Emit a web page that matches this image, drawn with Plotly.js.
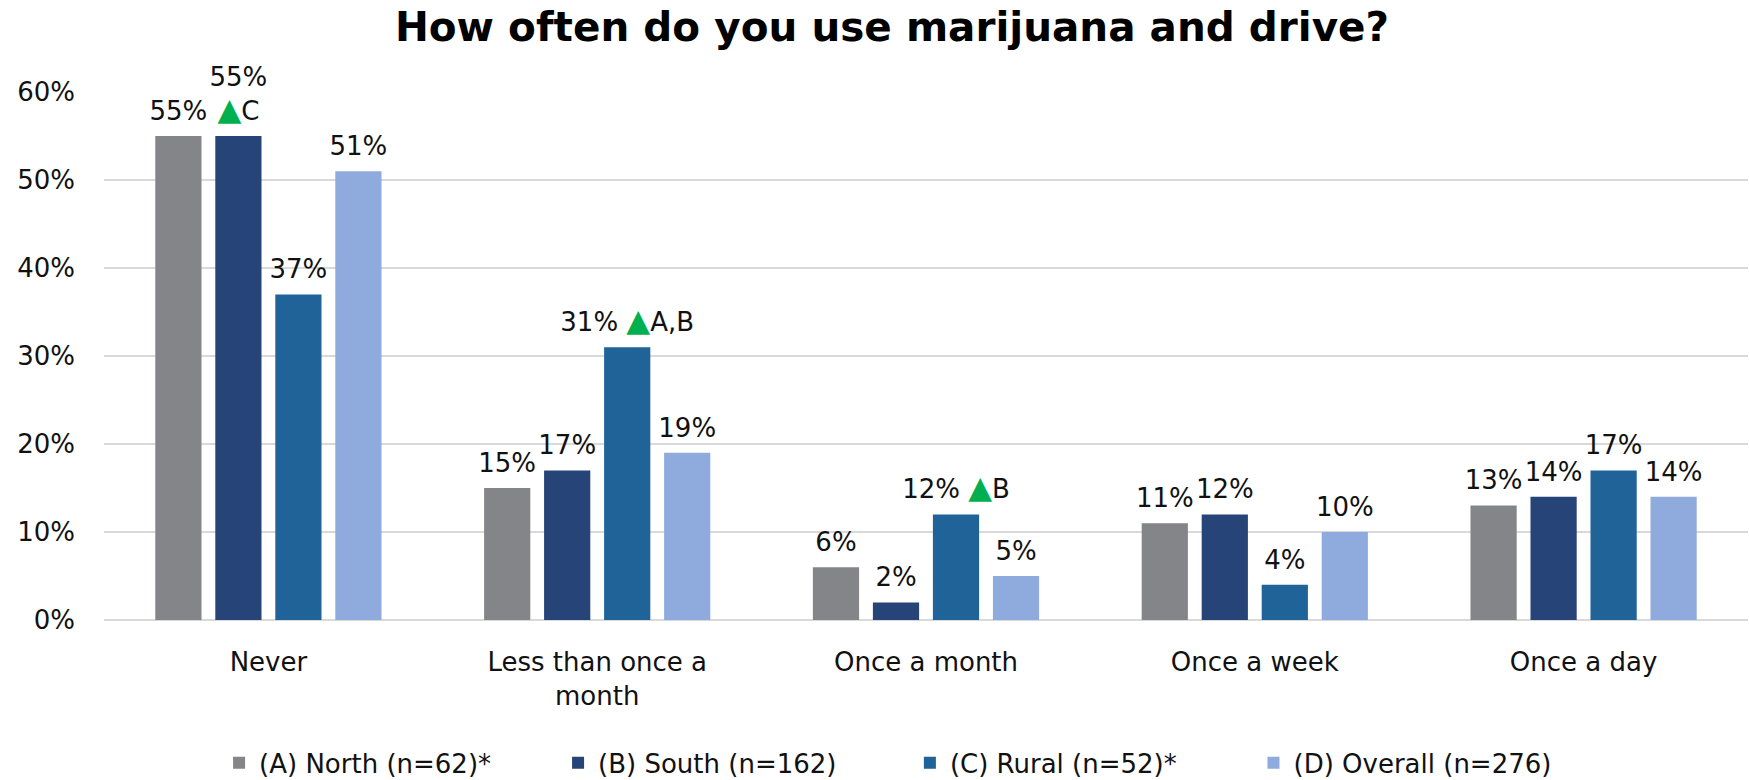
<!DOCTYPE html>
<html>
<head>
<meta charset="utf-8">
<script src="https://cdn.plot.ly/plotly-3.0.1.min.js"></script>
<style>html,body{margin:0;padding:0;background:#fff;}</style>
</head>
<body>
<div id="chart" style="width:1749px;height:780px;"></div>
<script>
const categories = ["Never", "Less than once a<br>month", "Once a month", "Once a week", "Once a day"];
const seriesNames = ["(A) North (n=62)*", "(B) South (n=162)", "(C) Rural (n=52)*", "(D) Overall (n=276)"];
const north   = [55, 15, 6, 11, 13];
const south   = [55, 17, 2, 12, 14];
const rural   = [37, 31, 12, 4, 17];
const overall = [51, 19, 5, 10, 14];
// significance markers (letters of groups significantly lower)
const sigNorth   = ["", "", "", "", ""];
const sigSouth   = ["C", "", "", "", ""];
const sigRural   = ["", "A,B", "B", "", ""];
const sigOverall = ["", "", "", "", ""];
const colors = ["#848589", "#264478", "#1f6399", "#8faadc"];
const yTicks = [0, 10, 20, 30, 40, 50, 60];
const legendIds = ["legend", "legend2", "legend3", "legend4"];
const legendX = [0.070, 0.2762, 0.4902, 0.6992];

const FONT = "DejaVu Sans, sans-serif";
const TRI = '<span style="color:#00b050;font-size:31px">▲</span>';

function labels(vals, sig, twoLine) {
  return vals.map((v, i) => {
    if (!sig[i]) return v + "%";
    return twoLine ? (v + "%<br>" + TRI + sig[i]) : (v + "% " + TRI + sig[i]);
  });
}

const series = [north, south, rural, overall];
const sigs = [sigNorth, sigSouth, sigRural, sigOverall];
const bars = series.map((vals, k) => ({
  type: "bar",
  name: seriesNames[k],
  x: categories,
  y: vals,
  marker: {color: colors[k]},
  offsetgroup: "g" + k,
  legend: legendIds[k],
  hoverinfo: "none"
}));
const texts = series.map((vals, k) => ({
  type: "scatter",
  mode: "markers+text",
  x: categories,
  y: vals,
  text: labels(vals, sigs[k], k === 1),
  textposition: "top center",
  textfont: {family: FONT, size: 26, color: "#111"},
  marker: {size: 14, opacity: 0, color: colors[k]},
  offsetgroup: "g" + k,
  cliponaxis: false,
  showlegend: false,
  hoverinfo: "none"
}));

const layout = {
  width: 1749, height: 780,
  margin: {l: 104, r: 1, t: 92, b: 160},
  paper_bgcolor: "#fff", plot_bgcolor: "#fff",
  font: {family: FONT, color: "#111"},
  title: {
    text: "<b>How often do you use marijuana and drive?</b>",
    font: {family: FONT, size: 40.5, color: "#000"},
    x: 0.51, xanchor: "center", y: 0.965, yanchor: "middle"
  },
  barmode: "group",
  bargap: 0.27,
  bargroupgap: 0.23,
  scattermode: "group",
  scattergap: 0.27,
  xaxis: {
    tickfont: {family: FONT, size: 26, color: "#111"},
    ticks: "", showgrid: false, showline: false, zeroline: false,
    ticklabelstandoff: 24
  },
  yaxis: {
    range: [0, 60],
    tickvals: yTicks,
    ticktext: yTicks.map(v => v + "%"),
    tickfont: {family: FONT, size: 26, color: "#111"},
    showgrid: true, gridcolor: "#d9d9d9", gridwidth: 2,
    zeroline: true, zerolinecolor: "#d9d9d9", zerolinewidth: 2,
    showline: false, ticks: "", ticklabelstandoff: 28
  },
  showlegend: true
};
legendIds.forEach((id, k) => {
  layout[id] = {
    orientation: "h", xref: "paper", x: legendX[k], xanchor: "left",
    yref: "container", y: 0.022, yanchor: "middle",
    font: {family: FONT, size: 26, color: "#111"},
    bgcolor: "rgba(0,0,0,0)", itemwidth: 30
  };
});

Plotly.newPlot("chart", bars.concat(texts), layout, {displayModeBar: false, staticPlot: true});
</script>
</body>
</html>
